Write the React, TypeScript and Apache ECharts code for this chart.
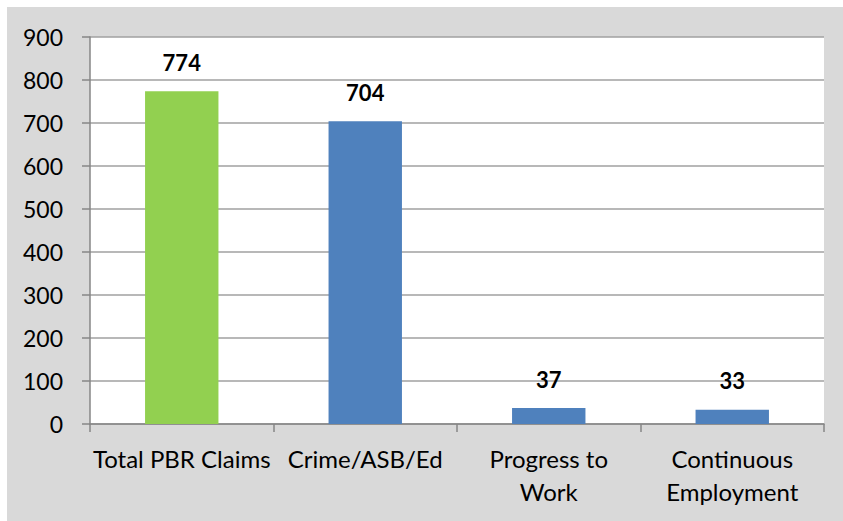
import React, { useEffect, useRef } from "react";
import * as echarts from "echarts";

const categories = ["Total PBR Claims", "Crime/ASB/Ed", "Progress to\nWork", "Continuous\nEmployment"];
const values = [774, 704, 37, 33];
const barColors = ["#92d050", "#4f81bd", "#4f81bd", "#4f81bd"];
const yTicks = { min: 0, max: 900, interval: 100 };

const FONT = "Lato";

export default function App() {
  const ref = useRef<HTMLDivElement>(null);
  useEffect(() => {
    if (!ref.current) return;
    const chart = echarts.init(ref.current, undefined, { renderer: "svg" });
    chart.setOption({
      animation: false,
      backgroundColor: "#d9d9d9",
      textStyle: { fontFamily: FONT },
      grid: {
        left: 83,
        right: 19,
        top: 30,
        bottom: 97,
        show: true,
        backgroundColor: "#ffffff",
        borderWidth: 0,
      },
      xAxis: {
        type: "category",
        data: categories,
        boundaryGap: true,
        axisLine: { show: true, lineStyle: { color: "#868686", width: 1.5 } },
        axisTick: { show: true, length: 8, alignWithLabel: false, lineStyle: { color: "#868686", width: 1.5 } },
        axisLabel: {
          color: "#000000",
          fontFamily: FONT,
          fontSize: 24,
          lineHeight: 33,
          margin: 18,
          interval: 0,
        },
      },
      yAxis: {
        type: "value",
        min: yTicks.min,
        max: yTicks.max,
        interval: yTicks.interval,
        axisLine: { show: true, lineStyle: { color: "#868686", width: 1.5 } },
        axisTick: { show: true, length: 8, lineStyle: { color: "#868686", width: 1.5 } },
        splitLine: { show: true, lineStyle: { color: "#a0a0a0", width: 1.5 } },
        axisLabel: {
          color: "#000000",
          fontFamily: FONT,
          fontSize: 23,
          margin: 27,
        },
      },
      series: [
        {
          type: "bar",
          barWidth: "40%",
          data: values.map((v, i) => ({ value: v, itemStyle: { color: barColors[i] } })),
          label: {
            show: true,
            position: "top",
            distance: 18,
            color: "#000000",
            fontFamily: FONT,
            fontWeight: "bold",
            fontSize: 22,
          },
        },
      ],
    });
    return () => chart.dispose();
  }, []);
  return (
    <div
      ref={ref}
      style={{ position: "absolute", left: 7, top: 7, width: 836, height: 514 }}
    />
  );
}
